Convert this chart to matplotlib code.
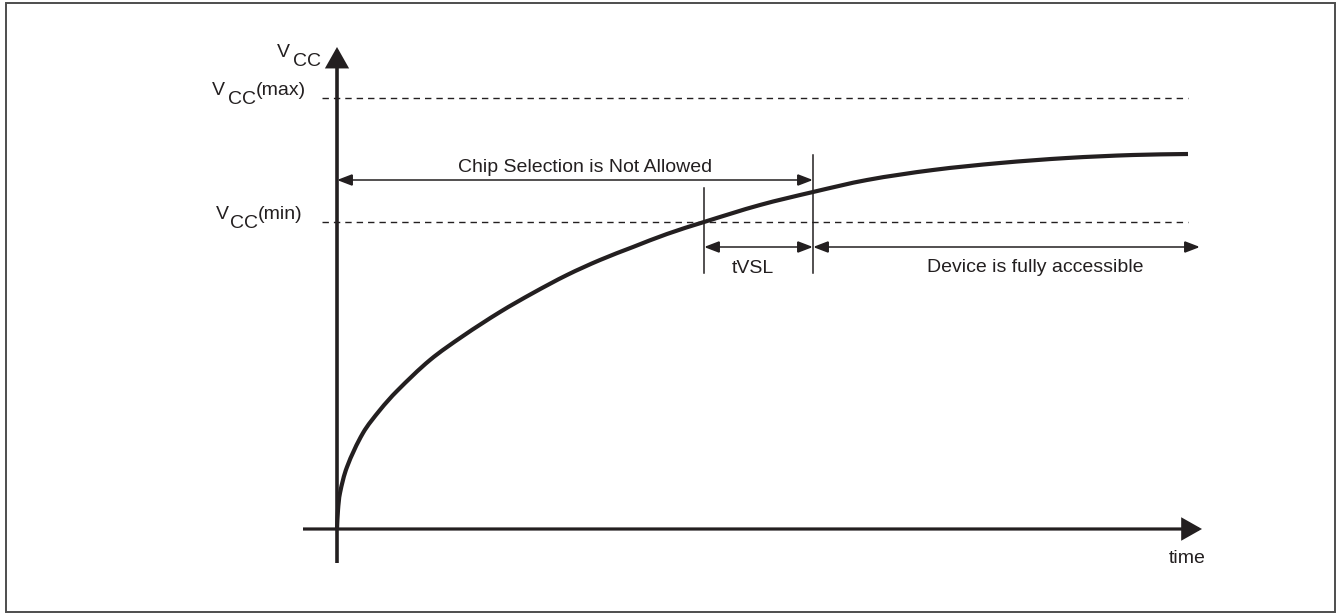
"""
plot.py
=======
Power-up timing diagram: VCC ramp vs time, with VCC(min)/VCC(max) levels,
tVSL delay and chip-selection regions. Saves out.png (1340x614).
"""
import numpy as np
import matplotlib
matplotlib.use("Agg")
import matplotlib.pyplot as plt
from matplotlib.patches import FancyArrowPatch, Rectangle, PathPatch
from matplotlib.path import Path

# ---------------------------------------------------------------------------
# Data (arbitrary units, origin where the two axes cross)
# ---------------------------------------------------------------------------
ramp_t = [0, 1, 3, 10, 26, 43, 60, 93, 126, 163, 196, 230, 263,
          296, 330, 367, 423, 476, 530, 596, 663, 730, 796, 851]
ramp_v = [0, 19, 36, 62, 96, 119, 138, 169, 193, 217, 236, 254, 269,
          282, 295, 307, 324, 337, 349, 359, 366, 371, 374, 375]

vcc_max = 431
vcc_min = 307
t_vcc_min = 367       # ramp crosses VCC(min)
t_access = 476        # end of tVSL
t_end = 863           # right end of "fully accessible" arrow
level_span = (-15, 851)

INK = "#231f20"
plt.rcParams["font.family"] = ["Liberation Sans", "DejaVu Sans"]
FS = 14

fig = plt.figure(figsize=(13.4, 6.14), dpi=100)
ax = fig.add_axes([0, 0, 1, 1])
ax.set_xlim(-337, 1003)
ax.set_ylim(-85, 529)
ax.axis("off")

# outer frame
ax.add_patch(Rectangle((-331, -83), 1329, 609, fill=False,
                       edgecolor="#4d4d4d", linewidth=1.4))


def arrow(p0, p1, style, lw, hl, hw):
    ax.add_patch(FancyArrowPatch(
        p0, p1, arrowstyle=f"{style},head_length={hl},head_width={hw}",
        mutation_scale=1, shrinkA=0, shrinkB=0, color=INK, linewidth=lw,
        joinstyle="miter", capstyle="butt"))


def smooth_path(xs, ys):
    # chord-length Catmull-Rom through the read points, as cubic Beziers
    pts = np.column_stack([xs, ys]).astype(float)
    d = np.hypot(*np.diff(pts, axis=0).T)
    tan = np.zeros_like(pts)
    tan[0] = (pts[1] - pts[0]) / d[0]
    tan[-1] = (pts[-1] - pts[-2]) / d[-1]
    for i in range(1, len(pts) - 1):
        tan[i] = (pts[i + 1] - pts[i - 1]) / (d[i - 1] + d[i])
    verts = [pts[0]]
    codes = [Path.MOVETO]
    for i in range(len(pts) - 1):
        verts += [pts[i] + tan[i] * d[i] / 3,
                  pts[i + 1] - tan[i + 1] * d[i] / 3, pts[i + 1]]
        codes += [Path.CURVE4] * 3
    return Path(verts, codes)


# axes
arrow((0, -34), (0, 482), "-|>", 2.6, 11.5, 6.5)
arrow((-34, 0), (865, 0), "-|>", 2.3, 11.5, 6.5)

# VCC levels
for lvl in (vcc_max, vcc_min):
    ax.plot(level_span, [lvl, lvl], color=INK, linewidth=1.0,
            dashes=(4.6, 3.6))

# ramp
ax.add_patch(PathPatch(smooth_path(ramp_t, ramp_v), fill=False,
                       edgecolor=INK, linewidth=3.0, capstyle="butt"))

# marker lines
ax.plot([t_vcc_min, t_vcc_min], [256, 341], color=INK, linewidth=1.1)
ax.plot([t_access, t_access], [256, 374], color=INK, linewidth=1.1)

# dimension arrows
arrow((0, 349), (t_access, 349), "<|-|>", 1.1, 9.4, 3.6)
arrow((t_vcc_min, 282), (t_access, 282), "<|-|>", 1.1, 9.4, 3.6)
arrow((t_access, 282), (t_end, 282), "<|-|>", 1.1, 9.4, 3.6)

# labels
txt = dict(color=INK, fontsize=FS, va="baseline")
ax.text(248, 357, "Chip Selection is Not Allowed", ha="center", **txt)
ax.text(416, 256, "tVSL", ha="center", **txt)
ax.text(590, 257, "Device is fully accessible", ha="left", **txt)
ax.text(850, -34, "time", ha="center", **txt)

# VCC axis label
ax.text(-60, 472, "V", ha="left", **txt)
ax.text(-44, 463, "CC", ha="left", **txt)
# VCC(max)
ax.text(-125, 434, "V", ha="left", **txt)
ax.text(-109, 425, "CC", ha="left", **txt)
ax.text(-81, 434, "(max)", ha="left", **txt)
# VCC(min)
ax.text(-121, 310, "V", ha="left", **txt)
ax.text(-107, 301, "CC", ha="left", **txt)
ax.text(-79, 310, "(min)", ha="left", **txt)

fig.savefig("out.png", dpi=100)
